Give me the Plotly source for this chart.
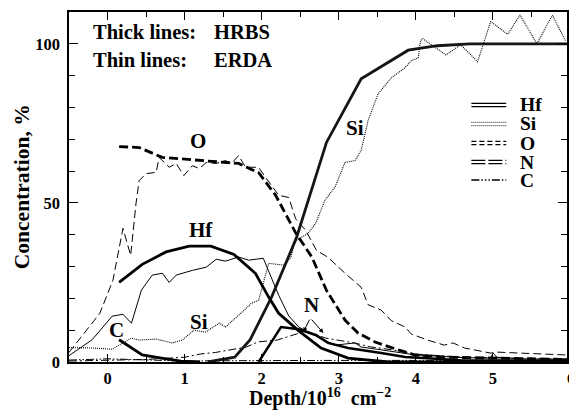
import plotly.graph_objects as go

# ---------------- data ----------------
hf_hrbs_x = [0.15, 0.45, 0.76, 1.06, 1.34, 1.64, 1.92, 2.09, 2.22, 2.48, 2.77, 3.12, 3.64, 4.5, 5.96]
hf_hrbs_y = [25.0, 30.7, 34.6, 36.4, 36.4, 33.8, 27.8, 20.4, 15.3, 9.8, 4.4, 1.2, 0.0, 0.0, 0.0]

hf_erda_x = [-0.5, -0.2, 0.06, 0.2, 0.31, 0.44, 0.58, 0.71, 0.8, 0.89, 1.1, 1.28, 1.41, 1.53, 1.7,
             1.83, 2.02, 2.1, 2.22, 2.35, 2.48, 2.65, 2.86, 2.95, 3.21, 3.29, 3.5, 3.8, 4.0, 4.3,
             4.6, 4.97, 5.0, 5.05, 5.4, 5.96]
hf_erda_y = [2.0, 7.0, 14.4, 15.0, 12.2, 22.6, 27.3, 27.9, 25.0, 27.3, 28.8, 29.8, 32.3, 31.7, 33.0,
             32.0, 32.6, 28.0, 21.0, 14.5, 11.0, 8.8, 6.5, 5.3, 6.0, 4.7, 4.0, 3.0, 2.2, 1.8,
             1.4, 1.2, 2.8, 1.5, 1.0, 0.8]

si_hrbs_x = [1.3, 1.65, 1.85, 2.0, 2.13, 2.45, 2.84, 3.29, 3.9, 4.28, 4.7, 5.96]
si_hrbs_y = [0.0, 1.5, 7.0, 14.0, 20.5, 39.0, 69.0, 89.0, 98.0, 99.4, 100.0, 100.0]

si_erda_x = [-0.5, -0.19, 0.06, 0.31, 0.41, 0.63, 0.84, 0.97, 1.12, 1.27, 1.45, 1.53, 1.7, 1.87,
             1.96, 2.09, 2.3, 2.38, 2.43, 2.6, 2.7, 2.82, 2.95, 3.08, 3.21, 3.29, 3.38, 3.51, 3.68,
             3.86, 3.94, 4.03, 4.06, 4.09, 4.39, 4.58, 4.8, 4.97, 5.19, 5.35, 5.57, 5.77, 5.94]
si_erda_y = [4.5, 4.4, 4.0, 7.5, 6.9, 7.2, 6.0, 6.9, 10.0, 9.4, 12.2, 11.0, 14.7, 18.5,
             19.4, 31.0, 30.4, 33.0, 38.0, 40.4, 43.6, 50.8, 55.0, 62.7, 63.3, 66.5, 75.9, 84.3, 89.3,
             92.5, 94.7, 95.6, 101.0, 101.6, 96.5, 99.7, 94.4, 107.0, 103.0, 109.0, 100.0, 109.0, 101.0]

o_hrbs_x = [0.15, 0.41, 0.71, 1.28, 1.7, 1.96, 2.18, 2.44, 2.65, 2.84, 3.08, 3.25, 3.47, 3.77, 3.99,
            4.4, 5.0, 5.96]
o_hrbs_y = [67.7, 67.4, 64.3, 63.3, 62.4, 59.5, 52.4, 40.6, 33.0, 22.5, 13.2, 9.1, 6.3, 3.8, 2.2,
            1.5, 1.2, 0.8]

o_erda_x = [-0.5, -0.3, -0.1, 0.07, 0.2, 0.3, 0.37, 0.41, 0.5, 0.63, 0.67, 0.8, 0.89, 0.99, 1.1,
            1.19, 1.28, 1.41, 1.53, 1.61, 1.7, 1.79, 1.96, 2.05, 2.22, 2.35, 2.44, 2.57, 2.71, 2.86,
            3.08, 3.29, 3.38, 3.55, 3.68, 3.86, 3.94, 4.15, 4.37, 4.48, 4.63, 4.97, 5.06, 5.35,
            5.87, 5.96]
o_erda_y = [3.0, 9.0, 15.3, 25.7, 42.0, 33.5, 50.0, 57.0, 59.2, 59.6, 64.3, 61.2, 62.4, 58.6, 61.7,
            60.8, 62.7, 62.4, 63.3, 62.4, 64.9, 61.2, 61.2, 58.0, 52.4, 51.7, 45.0, 41.4, 35.1, 32.9,
            27.9, 23.5, 18.0, 16.3, 13.0, 11.0, 8.8, 6.9, 5.3, 6.0, 4.4, 2.8, 3.1, 2.8,
            2.2, 2.2]

n_hrbs_x = [1.96, 2.25, 2.48, 2.7, 2.86, 3.12, 3.55, 3.86, 4.15, 4.6, 5.96]
n_hrbs_y = [0.0, 11.0, 10.3, 8.5, 6.0, 4.4, 2.8, 1.6, 1.2, 0.5, 0.4]

n_erda_x = [-0.5, 0.0, 0.5, 1.0, 1.2, 1.4, 1.6, 1.8, 1.95, 2.2, 2.45, 2.6, 2.83, 3.0, 3.2, 3.4,
            3.7, 4.0, 4.3, 4.6, 5.0, 5.5, 5.96]
n_erda_y = [0.3, 0.5, 0.8, 1.5, 2.5, 3.0, 3.8, 4.7, 6.3, 6.9, 8.8, 9.5, 7.5, 6.8, 6.0, 4.8,
            3.8, 2.5, 2.0, 1.5, 1.3, 1.0, 1.0]

c_hrbs_x = [0.15, 0.3, 0.45, 0.7, 0.95, 1.2]
c_hrbs_y = [7.0, 4.5, 2.2, 1.2, 0.3, 0.0]

c_erda_x = [-0.5, 0.0, 0.3, 0.6, 1.0, 1.5, 2.0, 3.0, 4.0, 5.0, 5.96]
c_erda_y = [0.6, 1.0, 0.8, 0.5, 0.3, 0.4, 0.5, 0.5, 0.5, 0.5, 0.5]

legend_names = ["Hf", "Si", "O", "N", "C"]
x_tick_vals = [0, 1, 2, 3, 4, 5]
y_tick_vals = [0, 50, 100]

# ---------------- figure ----------------
W, H = 569, 412
ML, MR, MT, MB = 69, 0, 12, 50
FONT = "Liberation Serif"

fig = go.Figure()

def add(x, y, width, dash, color="black"):
    fig.add_trace(go.Scatter(x=x, y=y, mode="lines", showlegend=False,
                             line=dict(color=color, width=width, dash=dash), hoverinfo="skip"))

THICK, THIN = 2.8, 1.0
add(o_erda_x, o_erda_y, THIN, "8px,4px")
add(si_erda_x, si_erda_y, 1.1, "1px,1px", "black")
add(hf_erda_x, hf_erda_y, THIN, "solid")
add(n_erda_x, n_erda_y, THIN, "8px,3px,2px,3px")
add(c_erda_x, c_erda_y, THIN, "8px,2px,1.5px,2px,1.5px,2px")
add(o_hrbs_x, o_hrbs_y, THICK, "9px,4px")
add(si_hrbs_x, si_hrbs_y, THICK, "solid", "#151515")
add(hf_hrbs_x, hf_hrbs_y, THICK, "solid")
add(n_hrbs_x, n_hrbs_y, 2.5, "solid")
add(c_hrbs_x, c_hrbs_y, THICK, "solid")

def px_x(p):
    return (p - ML) / (W - ML - MR)

def px_y(p):
    return (H - MB - p) / (H - MT - MB)

bold = dict(family=FONT, color="black", weight="bold")

annotations = []
def label(text, x, y, size=21, xref="x", yref="y", xanchor="center", yanchor="middle", angle=0):
    annotations.append(dict(text=text, x=x, y=y, xref=xref, yref=yref, showarrow=False,
                            xanchor=xanchor, yanchor=yanchor, textangle=angle,
                            font=dict(size=size, **bold)))

# header text
label("Thick lines:", px_x(91), px_y(32), 20.5, "paper", "paper", "left")
label("HRBS", px_x(213), px_y(32), 20.5, "paper", "paper", "left")
label("Thin lines:", px_x(91), px_y(60), 20.5, "paper", "paper", "left")
label("ERDA", px_x(213), px_y(60), 20.5, "paper", "paper", "left")

# curve labels
label("O", 1.17, 69.6)
label("Hf", 1.21, 41.4)
label("Si", 1.19, 12.5)
label("C", 0.12, 10.0)
label("Si", 3.21, 73.4)
label("N", 2.65, 17.9)
for hx, hy, ax, ay in [(2.54, 9.4, 7, -14), (2.80, 9.1, -13, -15)]:
    annotations.append(dict(text="", x=hx, y=hy, xref="x", yref="y", ax=ax, ay=ay,
                            showarrow=True, arrowhead=2, arrowsize=0.9, arrowwidth=1,
                            arrowcolor="black"))

# axis titles
label("Concentration,\u00a0%", px_x(22), px_y(187), 21.5, "paper", "paper", angle=-90)
label("Depth/10<sup>16</sup>\u00a0\u00a0cm<sup>\u22122</sup>", px_x(321), px_y(397), 20,
      "paper", "paper")
# tick label "6" cut by the right border
label("6", px_x(573), px_y(378), 16.5, "paper", "paper")

# legend (drawn by hand: double line samples)
shapes = []
def seg(x0, x1, y, dash, width=1.2, color="black"):
    shapes.append(dict(type="line", xref="paper", yref="paper", x0=px_x(x0), x1=px_x(x1),
                       y0=px_y(y), y1=px_y(y), line=dict(color=color, width=width, dash=dash)))

leg_y = [105, 124, 143, 162, 180]
leg_dash = ["solid", "1px,1px", "5px,3px", "14px,3px", None]
for name, yy, d in zip(legend_names, leg_y, leg_dash):
    if d is None:
        seg(473, 508, yy, "8px,2px,1.5px,2px,1.5px,2px,1.5px,2px", 1.4)
    else:
        c = "#444" if name == "Si" else "black"
        seg(473, 508, yy - 1.7, d, 1.3, c)
        seg(473, 508, yy + 1.7, d, 1.3, c)
    label(name, px_x(520), px_y(yy), 19.5, "paper", "paper", "left")

axis_common = dict(showline=True, linecolor="black", linewidth=1.5, mirror="ticks",
                   ticks="inside", tickcolor="black", tickwidth=1.3, showgrid=False,
                   zeroline=False, tickfont=dict(size=16.5, **bold))

fig.update_layout(
    width=W, height=H,
    margin=dict(l=ML, r=MR, t=MT, b=MB, pad=0),
    paper_bgcolor="white", plot_bgcolor="white",
    showlegend=False,
    annotations=annotations, shapes=shapes,
    xaxis=dict(range=[-0.5, 5.96], tickvals=x_tick_vals, ticklen=8,
               minor=dict(dtick=0.5, tick0=0, ticklen=5, ticks="inside", tickcolor="black",
                          tickwidth=1.2),
               **axis_common),
    yaxis=dict(range=[0, 110], tickvals=y_tick_vals, ticklen=9,
               minor=dict(dtick=10, tick0=0, ticklen=6, ticks="inside", tickcolor="black",
                          tickwidth=1.2),
               ticklabelstandoff=4,
               **axis_common),
)

fig.write_html("out.html")
